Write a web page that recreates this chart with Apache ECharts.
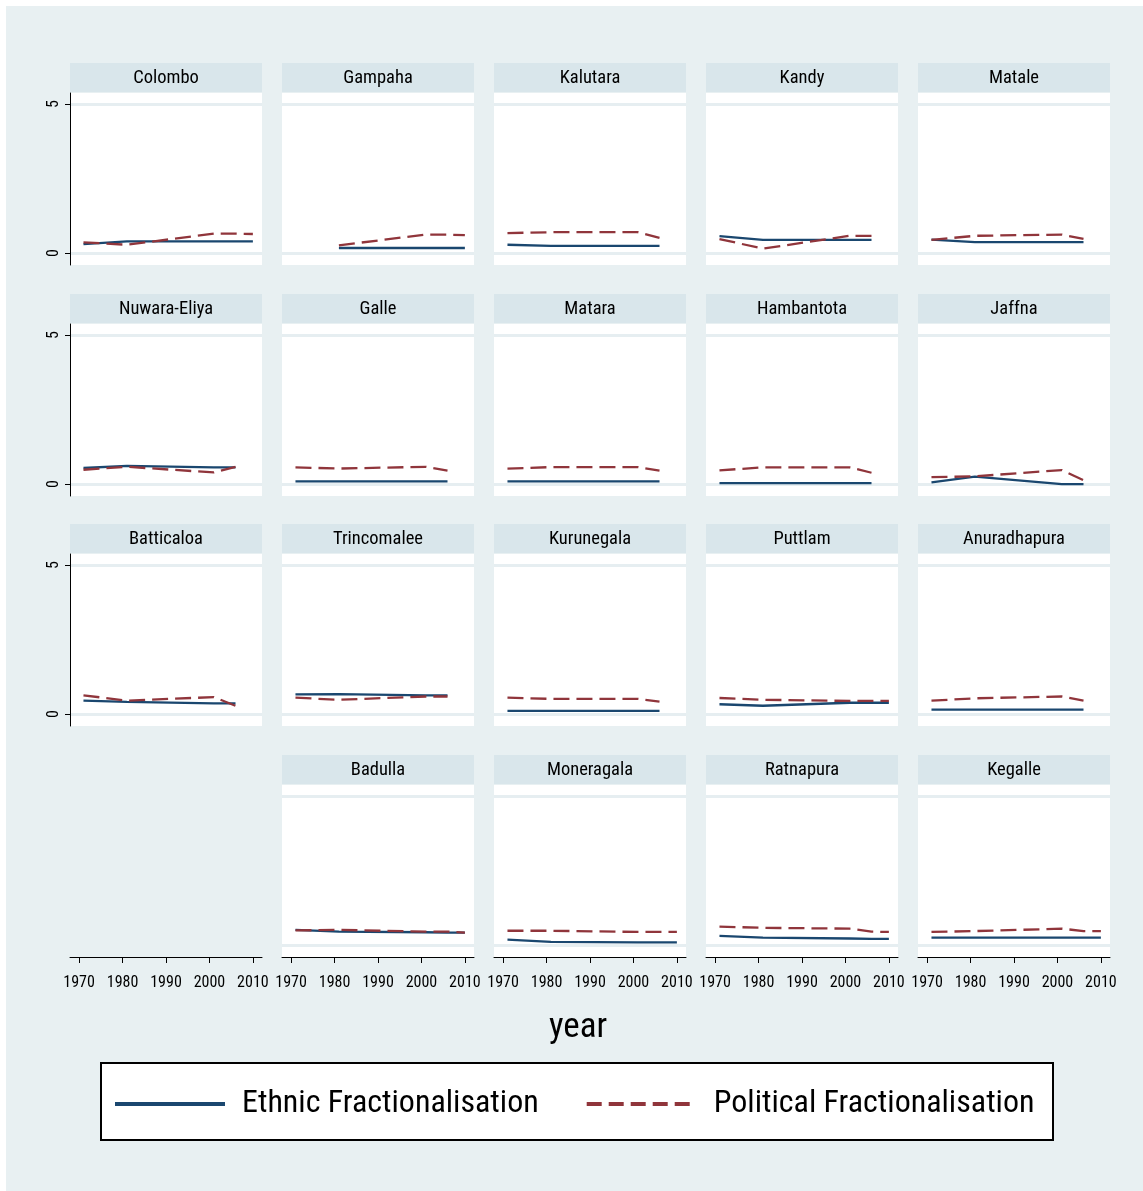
<!DOCTYPE html>
<html>
<head>
    <meta charset="utf-8">
    <title>Fractionalisation by district</title>
    <script src="https://cdn.jsdelivr.net/npm/echarts@6/dist/echarts.min.js"></script>
    <style>
        html, body { margin: 0; padding: 0; background: #fff; }
        #main { width: 1143px; height: 1191px; }
    </style>
</head>
<body>
<div id="main"></div>
<script type="text/javascript">
    // data
    var districts = ['Colombo', 'Gampaha', 'Kalutara', 'Kandy', 'Matale',
        'Nuwara-Eliya', 'Galle', 'Matara', 'Hambantota', 'Jaffna',
        'Batticaloa', 'Trincomalee', 'Kurunegala', 'Puttlam', 'Anuradhapura',
        'Badulla', 'Moneragala', 'Ratnapura', 'Kegalle'];
    var years = [1971, 1981, 2001, 2006, 2010];
    var yearTicks = [1970, 1980, 1990, 2000, 2010];
    var yTicks = [0, 5];

    var ethnic = [
        [0.30, 0.39, 0.39, 0.39, 0.39],   // Colombo
        [null, 0.17, 0.17, 0.17, 0.17],   // Gampaha
        [0.28, 0.24, 0.24, 0.24, null],   // Kalutara
        [0.57, 0.44, 0.44, 0.44, null],   // Kandy
        [0.45, 0.37, 0.37, 0.37, null],   // Matale
        [0.54, 0.61, 0.56, 0.56, null],   // Nuwara-Eliya
        [0.09, 0.09, 0.09, 0.09, null],   // Galle
        [0.09, 0.09, 0.09, 0.09, null],   // Matara
        [0.03, 0.03, 0.03, 0.03, null],   // Hambantota
        [0.06, 0.25, 0.00, 0.00, null],   // Jaffna
        [0.45, 0.41, 0.36, 0.36, null],   // Batticaloa
        [0.66, 0.67, 0.63, 0.63, null],   // Trincomalee
        [0.11, 0.11, 0.11, 0.11, null],   // Kurunegala
        [0.33, 0.28, 0.38, 0.38, 0.38],   // Puttlam
        [0.15, 0.15, 0.15, 0.15, null],   // Anuradhapura
        [0.51, 0.45, 0.43, 0.42, 0.42],   // Badulla
        [0.18, 0.11, 0.09, 0.09, 0.09],   // Moneragala
        [0.31, 0.25, 0.22, 0.21, 0.21],   // Ratnapura
        [0.25, 0.25, 0.25, 0.25, 0.25]    // Kegalle
    ];
    var political = [
        [0.36, 0.28, 0.65, 0.65, 0.64],   // Colombo
        [null, 0.26, 0.62, 0.62, 0.60],   // Gampaha
        [0.67, 0.70, 0.70, 0.51, null],   // Kalutara
        [0.47, 0.15, 0.58, 0.58, null],   // Kandy
        [0.44, 0.58, 0.62, 0.48, null],   // Matale
        [0.48, 0.58, 0.39, 0.58, null],   // Nuwara-Eliya
        [0.56, 0.52, 0.58, 0.45, null],   // Galle
        [0.52, 0.57, 0.57, 0.45, null],   // Matara
        [0.46, 0.56, 0.56, 0.38, null],   // Hambantota
        [0.23, 0.26, 0.47, 0.13, null],   // Jaffna
        [0.63, 0.45, 0.57, 0.28, null],   // Batticaloa
        [0.55, 0.48, 0.59, 0.59, null],   // Trincomalee
        [0.55, 0.51, 0.51, 0.42, null],   // Kurunegala
        [0.54, 0.48, 0.44, 0.44, 0.44],   // Puttlam
        [0.45, 0.53, 0.59, 0.45, null],   // Anuradhapura
        [0.49, 0.51, 0.45, 0.45, 0.42],   // Badulla
        [0.48, 0.48, 0.44, 0.44, 0.44],   // Moneragala
        [0.62, 0.58, 0.55, 0.45, 0.44],   // Ratnapura
        [0.44, 0.47, 0.55, 0.47, 0.47]    // Kegalle
    ];

    var ETH = 'Ethnic Fractionalisation';
    var POL = 'Political Fractionalisation';
    var navy = '#1a476f';
    var maroon = '#90353b';
    var font = "'Roboto Condensed', 'DejaVu Sans Condensed', sans-serif";

    // panel layout
    var colLeft = [70, 282, 494, 706, 918];
    var rowTop = [63, 294, 524, 755];
    var panelW = 192, headH = 30, plotH = 172;
    var emptyCell = 15;

    var myChart = echarts.init(document.getElementById('main'));

    var grids = [], xAxes = [], yAxes = [], series = [];
    var graphics = [
        {type: 'rect', shape: {x: 6, y: 6, width: 1137, height: 1185}, style: {fill: '#e8f0f2'}, z: -10}
    ];

    function pairs(vals) {
        var out = [];
        for (var i = 0; i < years.length; i++) {
            out.push([years[i], vals[i]]);
        }
        return out;
    }

    var d = 0;
    for (var cell = 0; cell < 20; cell++) {
        var r = Math.floor(cell / 5), c = cell % 5;
        var isEmpty = cell == emptyCell;
        grids.push({
            left: colLeft[c], top: rowTop[r] + headH, width: panelW, height: plotH,
            show: !isEmpty, backgroundColor: '#fff', borderWidth: 0
        });
        xAxes.push({
            type: 'value', gridIndex: cell, min: 1967.9, max: 2012.1,
            show: r == 3,
            axisLine: {show: true, onZero: false, lineStyle: {color: '#000', width: 1}},
            axisTick: {show: true, length: 6, customValues: yearTicks, lineStyle: {color: '#000'}},
            axisLabel: {
                customValues: yearTicks, margin: 18, color: '#000', fontSize: 16, fontFamily: font,
                formatter: function (v) { return String(v); }
            },
            splitLine: {show: false}
        });
        yAxes.push({
            type: 'value', gridIndex: cell, min: -0.4, max: 5.37,
            show: c == 0 && r < 3,
            axisLine: {show: true, onZero: false, lineStyle: {color: '#000', width: 1}},
            axisTick: {show: true, length: 5, customValues: yTicks, lineStyle: {color: '#000'}},
            axisLabel: {customValues: yTicks, rotate: 90, margin: 8, color: '#000', fontSize: 16, fontFamily: font},
            splitLine: {show: false}
        });
        if (isEmpty) {
            continue;
        }

        // header strip
        graphics.push({
            type: 'rect', shape: {x: colLeft[c], y: rowTop[r], width: panelW, height: headH - 1},
            style: {fill: '#d9e6eb'}, z: 5
        });
        graphics.push({
            type: 'text', x: colLeft[c] + panelW / 2, y: rowTop[r] + headH / 2,
            style: {text: districts[d], fill: '#000', font: '18.5px ' + font, textAlign: 'center', textVerticalAlign: 'middle'},
            z: 6
        });

        // grid lines at 0 and 5
        series.push({
            type: 'line', xAxisIndex: cell, yAxisIndex: cell, data: [], z: 0, silent: true,
            markLine: {
                silent: true, z: 0, symbol: ['none', 'none'], label: {show: false},
                lineStyle: {color: '#e6eef1', width: 3, type: 'solid'},
                data: [{yAxis: 0}, {yAxis: 5}]
            }
        });
        series.push({
            name: ETH, type: 'line', xAxisIndex: cell, yAxisIndex: cell, z: 5,
            data: pairs(ethnic[d]), symbol: 'none', showSymbol: false,
            lineStyle: {color: navy, width: 2.3, type: 'solid'}, itemStyle: {color: navy}
        });
        series.push({
            name: POL, type: 'line', xAxisIndex: cell, yAxisIndex: cell, z: 5,
            data: pairs(political[d]), symbol: 'none', showSymbol: false,
            lineStyle: {color: maroon, width: 2.3, type: [16, 7]}, itemStyle: {color: maroon}
        });
        d++;
    }

    // x title and legend box
    graphics.push({
        type: 'text', x: 578, y: 1028,
        style: {text: 'year', fill: '#000', font: '35px ' + font, textAlign: 'center', textVerticalAlign: 'middle'}
    });
    graphics.push({
        type: 'rect', shape: {x: 101, y: 1063, width: 952, height: 77},
        style: {fill: '#fff', stroke: '#000', lineWidth: 2}, z: 0
    });

    var option = {
        animation: false,
        backgroundColor: '#fff',
        grid: grids,
        xAxis: xAxes,
        yAxis: yAxes,
        legend: {
            left: 108, top: 1083, orient: 'horizontal', selectedMode: false,
            itemWidth: 110, itemHeight: 20, itemGap: 46,
            itemStyle: {opacity: 0, borderWidth: 0},
            textStyle: {fontSize: 32, fontFamily: font, color: '#000', padding: [0, 0, 0, 12]},
            data: [
                {name: ETH, lineStyle: {width: 4, type: 'solid', color: navy}},
                {name: POL, lineStyle: {width: 4, type: [15, 7], color: maroon}}
            ]
        },
        graphic: graphics,
        series: series
    };

    myChart.setOption(option);
</script>
</body>
</html>
